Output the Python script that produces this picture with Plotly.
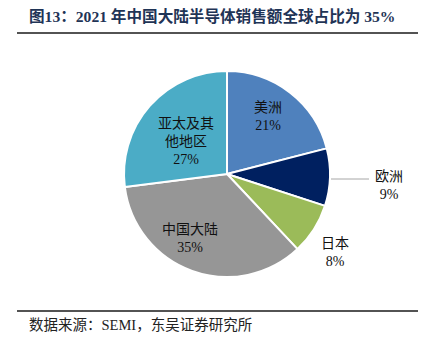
import plotly.graph_objects as go

regions = ["美洲", "欧洲", "日本", "中国大陆", "亚太及其他地区"]
label_lines = ["美洲", "欧洲", "日本", "中国大陆", "亚太及其<br>他地区"]
shares = [21, 9, 8, 35, 27]
colors = ["#4F81BD", "#002060", "#9BBB59", "#969696", "#4BACC6"]

W, H = 429, 351
title = "图13：2021 年中国大陆半导体销售额全球占比为 35%"
source = "数据来源：SEMI，东吴证券研究所"

cx, cy, R = 227, 174, 103

def px(x):
    return x / W

def py(y):
    return 1 - y / H

fig = go.Figure(go.Pie(
    labels=regions, values=shares, sort=False, direction="clockwise", rotation=0,
    marker=dict(colors=colors, line=dict(color="white", width=2)),
    textinfo="none", hoverinfo="label+percent", showlegend=False,
    domain=dict(x=[px(cx - R), px(cx + R)], y=[py(cy + R), py(cy - R)]),
))

# label block centres (pixels)
label_pos = [(268, 117), (389, 185), (335, 253), (190, 239), (186, 141)]
FONT = "Liberation Serif, Times New Roman, Noto Sans CJK SC"
for name, v, (lx, ly) in zip(label_lines, shares, label_pos):
    fig.add_annotation(
        x=px(lx), y=py(ly), xref="paper", yref="paper",
        text=f"{name}<br>{v}%", showarrow=False, align="center",
        font=dict(family=FONT, size=14, color="#111111"),
        xanchor="center", yanchor="middle",
    )

shapes = [
    dict(type="line", xref="paper", yref="paper", x0=px(331), x1=px(369), y0=py(179), y1=py(179),
         line=dict(color="#A6A6A6", width=1)),
    dict(type="line", xref="paper", yref="paper", x0=px(17), x1=px(418), y0=py(33), y1=py(33),
         line=dict(color="#1a1a1a", width=1.6)),
    dict(type="line", xref="paper", yref="paper", x0=px(17), x1=px(418), y0=py(311), y1=py(311),
         line=dict(color="#1a1a1a", width=1.6)),
]

fig.add_annotation(
    x=px(27), y=py(16), xref="paper", yref="paper", text=f"<b>{title}</b>",
    showarrow=False, xanchor="left", yanchor="middle",
    font=dict(family=FONT, size=15.6, color="#1F3456"),
)
fig.add_annotation(
    x=px(27), y=py(325), xref="paper", yref="paper", text=source,
    showarrow=False, xanchor="left", yanchor="middle",
    font=dict(family=FONT, size=14.5, color="#222222"),
)

fig.update_layout(
    width=W, height=H, margin=dict(l=0, r=0, t=0, b=0),
    paper_bgcolor="white", plot_bgcolor="white", shapes=shapes,
)

fig.write_html("out.html")
